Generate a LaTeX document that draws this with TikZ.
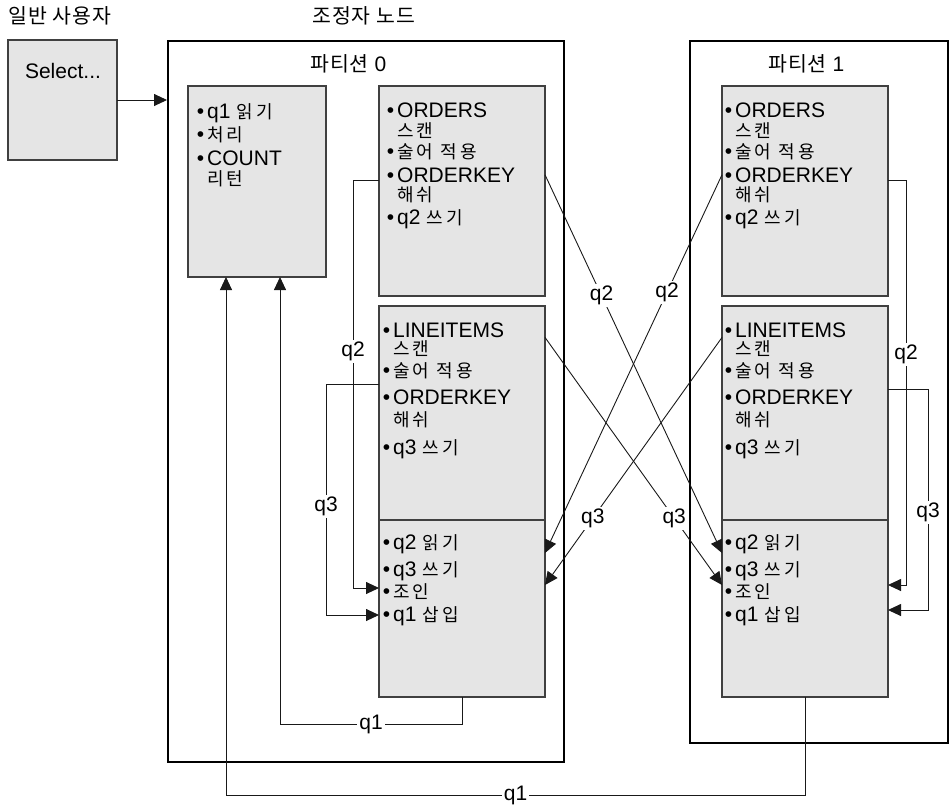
\documentclass[tikz,border=0pt]{standalone}
\usepackage{fontspec}
\setmainfont{Liberation Sans}
\newfontfamily\krfont[LetterSpace=18]{Noto Sans CJK KR}
\newfontfamily\krtop[LetterSpace=5]{Noto Sans CJK KR}
\newcommand\kr{\krfont\fontsize{18}{20}\selectfont}
\newcommand\krbig{\krtop\fontsize{20.5}{22}\selectfont}
\newcommand\bul{\llap{•\kern3pt}}
\usetikzlibrary{arrows.meta,positioning}

\begin{document}
\begin{tikzpicture}[x=1pt,y=-1pt,
  part/.style={draw=black, line width=2.2pt, anchor=north west},
  task/.style={draw=black!75, fill=black!10, line width=1.2pt, outer sep=0pt, anchor=north west},
  flow/.style={draw=black!90, line width=0.9pt},
  tip/.style={-{Triangle[length=13pt,width=12pt]}},
  txt/.style={inner sep=0pt, anchor=base west, font=\fontsize{21}{24}\selectfont},
  qlbl/.style={fill=white, inner sep=2pt, font=\fontsize{21}{24}\selectfont}]
\useasboundingbox (0,0) rectangle (952,807);

% Top labels
\node[txt] (user) at (8,23) {\krbig 일반 사용자};
\node[txt] (coord) at (312,23) {\krbig 조정자 노드};

% User box
\node[task, minimum width=109pt, minimum height=120pt] (sel) at (8,40) {};
\node[txt, anchor=base] (seltxt) at (63,78) {Select...};

% Partitions
\node[part, minimum width=396pt, minimum height=721pt] (p0) at (167,40) {};
\node[part, minimum width=258pt, minimum height=702pt] (p1) at (689,40) {};
\node[txt] (p0lbl) at (310,71) {{\krbig 파티션} 0};
\node[txt] (p1lbl) at (768,71) {{\krbig 파티션} 1};

% Task boxes, partition 0
\node[task, minimum width=138pt, minimum height=191pt] (sum0) at (188,86) {};
\node[task, minimum width=166pt, minimum height=210pt] (ord0) at (379,86) {};
\node[task, minimum width=166pt, minimum height=214pt, below=10pt of ord0] (li0) {};
\node[task, minimum width=166pt, minimum height=177pt, below=0pt of li0] (jn0) {};

% Task boxes, partition 1
\node[task, minimum width=166pt, minimum height=210pt] (ord1) at (722,86) {};
\node[task, minimum width=166pt, minimum height=214pt, below=10pt of ord1] (li1) {};
\node[task, minimum width=166pt, minimum height=177pt, below=0pt of li1] (jn1) {};

% Task texts
\foreach \y/\t [count=\i] in {118/{\bul q1 {\kr 읽기}}, 141/{\bul\kr 처리}, 165/{\bul COUNT}, 185/{\kr 리턴}}
  \node[txt] (s0t\i) at (207,\y) {\t};
\foreach \x/\p in {397/0, 735/1} {
  \foreach \y/\t [count=\i] in {117/{\bul ORDERS}, 137/{\kr 스캔}, 158/{\bul\kr 술어 적용}, 182/{\bul ORDERKEY}, 201/{\kr 해쉬}, 224/{\bul q2 {\kr 쓰기}}}
    \node[txt] (o\p t\i) at (\x,\y) {\t};
}
\foreach \x/\p in {393/0, 735/1} {
  \foreach \y/\t [count=\i] in {337/{\bul LINEITEMS}, 355/{\kr 스캔}, 377/{\bul\kr 술어 적용}, 404/{\bul ORDERKEY}, 426/{\kr 해쉬}, 454/{\bul q3 {\kr 쓰기}}}
    \node[txt] (l\p t\i) at (\x,\y) {\t};
  \foreach \y/\t [count=\i] in {549/{\bul q2 {\kr 읽기}}, 576/{\bul q3 {\kr 쓰기}}, 598/{\bul\kr 조인}, 621/{\bul q1 {\kr 삽입}}}
    \node[txt] (j\p t\i) at (\x,\y) {\t};
}

% Bend points
\coordinate (q1in) at (280,724);
\coordinate (q1out) at (226,795);
\coordinate (q2l) at (353,180);
\coordinate (q2lb) at (353,588);
\coordinate (q3l) at (326,384);
\coordinate (q3lb) at (326,615);
\coordinate (q2r) at (906,180);
\coordinate (q2rb) at (906,585);
\coordinate (q3r) at (928,389);
\coordinate (q3rb) at (928,610);
\coordinate (in2) at (0,553);
\coordinate (in3) at (0,585);

% Query in
\draw[flow,tip] (sel.east) -- (sel.east -| p0.west);

% Local flows
\draw[flow,tip] (ord0.west |- q2l) -- (q2l) -- node[qlbl,pos=0.42] {q2} (q2lb) -- (jn0.west |- q2lb);
\draw[flow,tip] (li0.west |- q3l) -- (q3l) -- node[qlbl,pos=0.53] {q3} (q3lb) -- (jn0.west |- q3lb);
\draw[flow,tip] (ord1.east |- q2r) -- (q2r) -- node[qlbl,pos=0.43] {q2} (q2rb) -- (jn1.east |- q2rb);
\draw[flow,tip] (li1.east |- q3r) -- (q3r) -- node[qlbl,pos=0.56] {q3} (q3rb) -- (jn1.east |- q3rb);

% Cross flows
\draw[flow,tip] (ord0.east |- o0t4) -- node[qlbl,pos=0.32] {q2} (jn1.west |- in2);
\draw[flow,tip] (ord1.west |- o1t4) -- node[qlbl,pos=0.31] {q2} (jn0.east |- in2);
\draw[flow,tip] (li0.east |- l0t1.south) -- node[qlbl,pos=0.73] {q3} (jn1.west |- in3);
\draw[flow,tip] (li1.west |- l1t1.south) -- node[qlbl,pos=0.73] {q3} (jn0.east |- in3);

% Results back to coordinator
\draw[flow,tip] (jn0.south) |- node[qlbl,pos=0.75] {q1} (q1in) -- (sum0.south -| q1in);
\draw[flow,tip] (jn1.south) |- node[qlbl,pos=0.75] {q1} (q1out) -- (sum0.south -| q1out);
\end{tikzpicture}
\end{document}
